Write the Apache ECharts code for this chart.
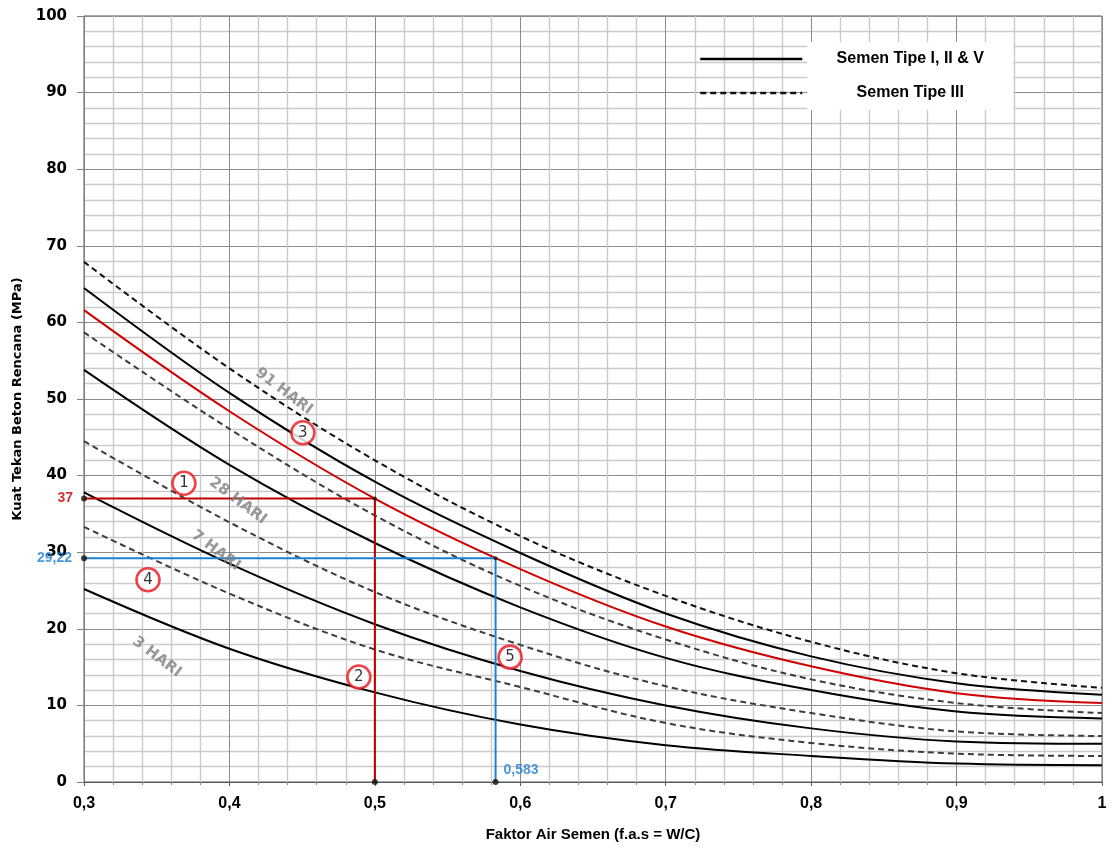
<!DOCTYPE html>
<html>
<head>
<meta charset="utf-8">
<script src="https://cdn.jsdelivr.net/npm/echarts@6/dist/echarts.min.js"></script>
<style>
  html, body { margin: 0; padding: 0; background: #fff; }
  #main { width: 1115px; height: 848px; }
</style>
</head>
<body>
<div id="main"></div>
<script>
// faktor air semen (x) dan kuat tekan (MPa)
var fas = [0.3, 0.4, 0.5, 0.6, 0.7, 0.8, 0.9, 1.0];

// Semen Tipe I, II & V (garis penuh)
var t1_3  = [25.2, 17.4, 11.7, 7.5, 4.8, 3.4, 2.4, 2.2];
var t1_7  = [37.8, 28.5, 20.6, 14.5, 10.0, 7.0, 5.3, 5.0];
var t1_28 = [53.8, 41.4, 31.2, 22.8, 16.2, 12.0, 9.2, 8.3];
var t1_91 = [64.5, 50.8, 39.2, 29.9, 22.0, 16.4, 12.9, 11.4];

// Semen Tipe III (garis putus)
var t3_3  = [33.3, 24.6, 17.3, 12.4, 7.7, 5.1, 3.7, 3.4];
var t3_7  = [44.5, 33.9, 24.8, 17.9, 12.5, 9.0, 6.6, 6.0];
var t3_28 = [58.7, 46.1, 34.8, 25.6, 18.6, 13.4, 10.3, 9.0];
var t3_91 = [67.9, 54.0, 42.0, 32.1, 24.3, 18.3, 14.2, 12.3];

// kurva rencana (merah)
var rencana = [61.6, 48.4, 37.0, 27.8, 20.3, 15.1, 11.6, 10.3];

// garis bantu
var redPath  = [[0.3, 37], [0.5, 37], [0.5, 0]];
var bluePath = [[0.3, 29.22], [0.583, 29.22], [0.583, 0]];

// nomor langkah dalam lingkaran
var steps = [[0.3687, 39.0, '1'], [0.489, 13.7, '2'], [0.4505, 45.6, '3'], [0.344, 26.4, '4'], [0.593, 16.3, '5']];

// label umur
var hariLabels = [[0.4375, 51.0, '91 HARI'], [0.4058, 36.7, '28 HARI'], [0.3907, 30.2, '7 HARI'], [0.350, 16.3, '3 HARI']];

var NAME1 = 'Semen Tipe I, II & V';
var NAME3 = 'Semen Tipe III';

function pairs(ys) {
  var out = [];
  for (var i = 0; i < fas.length; i++) out.push([fas[i], ys[i]]);
  return out;
}

function curve(name, ys, color, dashed) {
  return {
    name: name,
    type: 'line',
    data: pairs(ys),
    smooth: 0.35,
    symbol: 'none',
    silent: true,
    z: 3,
    lineStyle: { color: color, width: 2, type: dashed ? [6, 4] : 'solid' },
    itemStyle: { color: color }
  };
}

var chart = echarts.init(document.getElementById('main'));

var option = {
  backgroundColor: '#fff',
  animation: false,
  grid: { left: 84, right: 13, top: 16, bottom: 66, show: true, borderColor: '#595959', borderWidth: 1 },
  legend: {
    left: 694, top: 37, orient: 'vertical', padding: 5,
    itemWidth: 102, itemHeight: 14, itemGap: 0,
    selectedMode: false,
    data: [NAME1, NAME3],
    itemStyle: { opacity: 0, borderWidth: 0 },
    lineStyle: { width: 2.5 },
    formatter: function (n) { return '{a|' + n + '}'; },
    textStyle: {
      backgroundColor: '#fff', padding: [9, 10],
      rich: {
        a: { width: 186, align: 'center', fontFamily: 'Liberation Sans', fontWeight: 'bold', fontSize: 16, lineHeight: 16, color: '#000' }
      }
    }
  },
  xAxis: {
    type: 'value', min: 0.3, max: 1, interval: 0.1,
    name: 'Faktor Air Semen (f.a.s = W/C)', nameLocation: 'middle', nameGap: 45,
    nameTextStyle: { fontFamily: 'Liberation Sans', fontWeight: 'bold', fontSize: 15, color: '#000' },
    axisLine: { show: true, lineStyle: { color: '#595959' } },
    axisTick: { show: true, length: 4, lineStyle: { color: '#595959' } },
    minorTick: { show: true, splitNumber: 5, length: 3, lineStyle: { color: '#8c8c8c' } },
    axisLabel: {
      margin: 14, fontFamily: 'Liberation Sans Narrow, Liberation Sans', fontWeight: 'bold', fontSize: 16, color: '#000',
      formatter: function (v) { var r = Math.round(v * 10) / 10; return r === 1 ? '1' : String(r).replace('.', ','); }
    },
    splitLine: { show: true, lineStyle: { color: '#8c8c8c', width: 1 } },
    minorSplitLine: { show: true, lineStyle: { color: '#cacaca', width: 1.4 } }
  },
  yAxis: {
    type: 'value', min: 0, max: 100, interval: 10,
    name: 'Kuat Tekan Beton Rencana (MPa)', nameLocation: 'middle', nameGap: 60,
    nameTextStyle: { fontFamily: 'DejaVu Sans', fontWeight: 'bold', fontSize: 13, color: '#000' },
    axisLine: { show: true, lineStyle: { color: '#808080' } },
    axisTick: { show: true, length: 7, lineStyle: { color: '#808080' } },
    minorTick: { show: false, splitNumber: 5 },
    axisLabel: { margin: 17, fontFamily: 'DejaVu Sans', fontWeight: 'bold', fontSize: 15, color: '#000' },
    splitLine: { show: true, lineStyle: { color: '#8c8c8c', width: 1 } },
    minorSplitLine: { show: true, lineStyle: { color: '#cacaca', width: 1.4 } }
  },
  series: [
    curve(NAME3, t3_91, '#111', true),
    curve(NAME1, t1_91, '#000', false),
    curve(NAME3, t3_28, '#3c3c3c', true),
    curve(NAME1, t1_28, '#000', false),
    curve(NAME3, t3_7, '#3c3c3c', true),
    curve(NAME1, t1_7, '#000', false),
    curve(NAME3, t3_3, '#3c3c3c', true),
    curve(NAME1, t1_3, '#000', false),
    {
      name: 'Rencana', type: 'line', data: pairs(rencana), smooth: 0.35, symbol: 'none', silent: true, z: 4,
      lineStyle: { color: '#d00000', width: 2 }
    },
    {
      name: 'Bantu merah', type: 'line', data: redPath, symbol: 'none', silent: true, z: 5,
      lineStyle: { color: '#c00000', width: 2 }
    },
    {
      name: 'Bantu biru', type: 'line', data: bluePath, symbol: 'none', silent: true, z: 5,
      lineStyle: { color: '#1f80d0', width: 2 }
    },
    {
      name: 'Titik', type: 'scatter', symbolSize: 6, silent: true, z: 6,
      itemStyle: { color: '#111' },
      data: [
        { value: [0.3, 37], label: { show: true, position: 'left', distance: 8, formatter: '37', color: '#c00000' } },
        { value: [0.3, 29.22], label: { show: true, position: 'left', distance: 9, formatter: '29,22', color: '#1f80d0' } },
        { value: [0.5, 0] },
        { value: [0.583, 0], label: { show: true, position: 'right', distance: 5, offset: [0, -12], formatter: '0,583', color: '#1f80d0' } },
        { value: [0.5, 37], symbolSize: 4 },
        { value: [0.583, 29.22], symbolSize: 4 }
      ],
      label: { fontFamily: 'Liberation Sans', fontWeight: 'bold', fontSize: 14 }
    },
    {
      name: 'Label hari', type: 'scatter', symbolSize: 0, silent: true, z: 6,
      data: hariLabels,
      label: {
        show: true, position: 'inside', rotate: -37,
        formatter: function (p) { return p.value[2]; },
        fontFamily: 'DejaVu Sans', fontWeight: 'bold', fontSize: 15, color: '#808080'
      }
    },
    {
      name: 'Langkah', type: 'scatter', symbol: 'circle', symbolSize: 23, silent: true, z: 7,
      data: steps,
      itemStyle: { color: '#fff', borderColor: '#e8141c', borderWidth: 2.6 },
      label: {
        show: true, position: 'inside',
        formatter: function (p) { return p.value[2]; },
        fontFamily: 'DejaVu Sans', fontSize: 15, color: '#000'
      }
    }
  ]
};

chart.setOption(option);
</script>
</body>
</html>
